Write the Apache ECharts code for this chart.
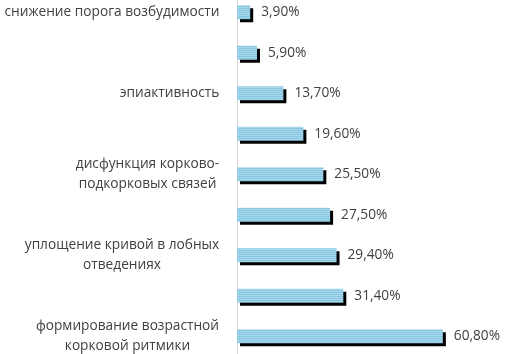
<!DOCTYPE html>
<html>
<head>
<meta charset="utf-8">
<script src="https://cdn.jsdelivr.net/npm/echarts@6/dist/echarts.min.js"></script>
<style>
  html, body { margin: 0; padding: 0; background: #fff; }
  #main { width: 509px; height: 354px; }
</style>
</head>
<body>
<div id="main"></div>
<script>
    // категории сверху вниз (пустые подписи Excel пропускает)
    let categories = [
        'снижение порога возбудимости',
        '',
        'эпиактивность',
        '',
        'дисфункция корково-\nподкорковых связей',
        '',
        'уплощение кривой в лобных\nотведениях',
        '',
        'формирование возрастной\nкорковой ритмики'
    ];
    let values = [3.9, 5.9, 13.7, 19.6, 25.5, 27.5, 29.4, 31.4, 60.8];

    let fontFamily = '"Open Sans", sans-serif';
    let fontSize = 13.7;

    // полосатая заливка столбиков
    let pat = document.createElement('canvas');
    pat.width = 4;
    pat.height = 2;
    let pctx = pat.getContext('2d');
    pctx.fillStyle = '#87c6e0';
    pctx.fillRect(0, 0, 4, 1);
    pctx.fillStyle = '#a9d8ec';
    pctx.fillRect(0, 1, 4, 1);

    // ширина строк для центрирования многострочных подписей
    let mctx = document.createElement('canvas').getContext('2d');
    mctx.font = fontSize + 'px ' + fontFamily;
    let rich = {};
    categories.forEach((c, i) => {
        let lines = c.split('\n');
        let w = Math.max.apply(null, lines.map(l => mctx.measureText(l).width));
        rich['c' + i] = {
            width: Math.ceil(w) + 1,
            align: 'center',
            fontSize: fontSize,
            fontFamily: fontFamily,
            color: '#404040',
            lineHeight: 20
        };
    });

    let myChart = echarts.init(document.getElementById('main'));
    let option = {
        backgroundColor: '#fff',
        animation: false,
        grid: {
            left: 237,
            right: 35,
            top: -8,
            bottom: -2.5,
            containLabel: false,
            outerBoundsMode: 'none'
        },
        xAxis: {
            type: 'value',
            min: 0,
            max: 70,
            show: false
        },
        yAxis: {
            type: 'category',
            inverse: true,
            data: categories,
            axisLine: {
                show: true,
                lineStyle: { color: '#d9d9d9', width: 1 }
            },
            axisTick: { show: false },
            axisLabel: {
                interval: 0,
                margin: 17,
                formatter: function (v, i) {
                    if (!v) return '';
                    return v.split('\n').map(l => '{c' + i + '|' + l + '}').join('\n');
                },
                rich: rich
            }
        },
        series: [{
            type: 'bar',
            data: values,
            barWidth: 14,
            itemStyle: {
                color: { image: pat, repeat: 'repeat' },
                shadowColor: '#000',
                shadowBlur: 0,
                shadowOffsetX: 3,
                shadowOffsetY: 3
            },
            label: {
                show: true,
                position: 'right',
                distance: 11,
                color: '#404040',
                fontSize: fontSize,
                fontFamily: fontFamily,
                formatter: p => p.value.toFixed(2).replace('.', ',') + '%'
            }
        }]
    };
    myChart.setOption(option);
</script>
</body>
</html>
